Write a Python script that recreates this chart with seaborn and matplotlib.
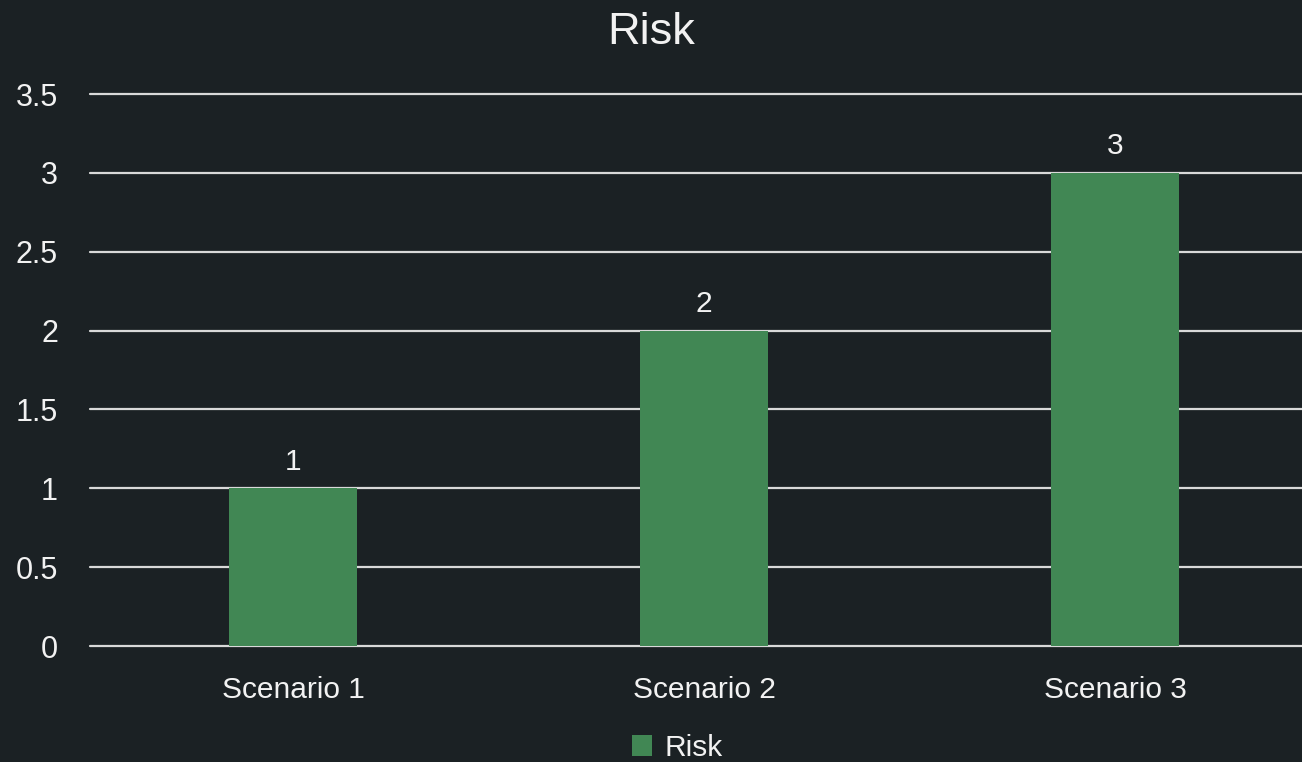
import matplotlib
matplotlib.use("Agg")
import matplotlib.pyplot as plt
import seaborn as sns
import pandas as pd

scenarios = ["Scenario 1", "Scenario 2", "Scenario 3"]
risk = [1, 2, 3]
y_ticks = [0, 0.5, 1, 1.5, 2, 2.5, 3, 3.5]
y_tick_labels = ["0", "0.5", "1", "1.5", "2", "2.5", "3", "3.5"]

bg = "#1b2124"
bar_color = "#418754"
grid_color = "#d9d9d9"
text_color = "#f2f2f2"

sns.set_theme(style="dark")
plt.rcParams["font.family"] = ["Liberation Sans", "DejaVu Sans"]

df = pd.DataFrame({"scenario": scenarios, "risk": risk})

fig = plt.figure(figsize=(13.02, 7.62), dpi=100, facecolor=bg)
ax = fig.add_axes([90 / 1302, 1 - 646 / 762, 1212 / 1302, 552 / 762])
ax.set_facecolor(bg)

sns.barplot(data=df, x="scenario", y="risk", color=bar_color, width=0.31,
            saturation=1, ax=ax, label="Risk", zorder=3, linewidth=0,
            edgecolor=bar_color)

ax.set_ylim(0, 3.5)
ax.set_xlim(-0.494, 2.455)
ax.set_yticks(y_ticks)
ax.set_yticklabels(y_tick_labels)
ax.yaxis.grid(True, color=grid_color, linewidth=1.6, zorder=0)
for gl in ax.get_ygridlines():
    gl.set_clip_on(False)
ax.xaxis.grid(False)
for s in ["top", "right", "left", "bottom"]:
    ax.spines[s].set_visible(False)
ax.tick_params(axis="y", length=0, pad=23, labelsize=22, labelcolor=text_color)
ax.tick_params(axis="x", length=0, pad=21.5, labelsize=21.5, labelcolor=text_color)
ax.set_xlabel("")
ax.set_ylabel("")

for c in ax.containers:
    ax.bar_label(c, labels=[str(v) for v in risk], padding=9, fontsize=21.5, color=text_color)

fig.suptitle("Risk", y=1 - 32 / 762, va="center", fontsize=32.5, color=text_color)

if ax.legend_:
    ax.legend_.remove()
handles, labels = ax.get_legend_handles_labels()
fig.legend(handles, labels, loc="center", bbox_to_anchor=(677 / 1302, 1 - 748 / 762),
           frameon=False, fontsize=21.5, labelcolor=text_color, handlelength=0.7,
           handleheight=0.7, handletextpad=0.4)

fig.savefig("out.png", dpi=100, facecolor=bg)
